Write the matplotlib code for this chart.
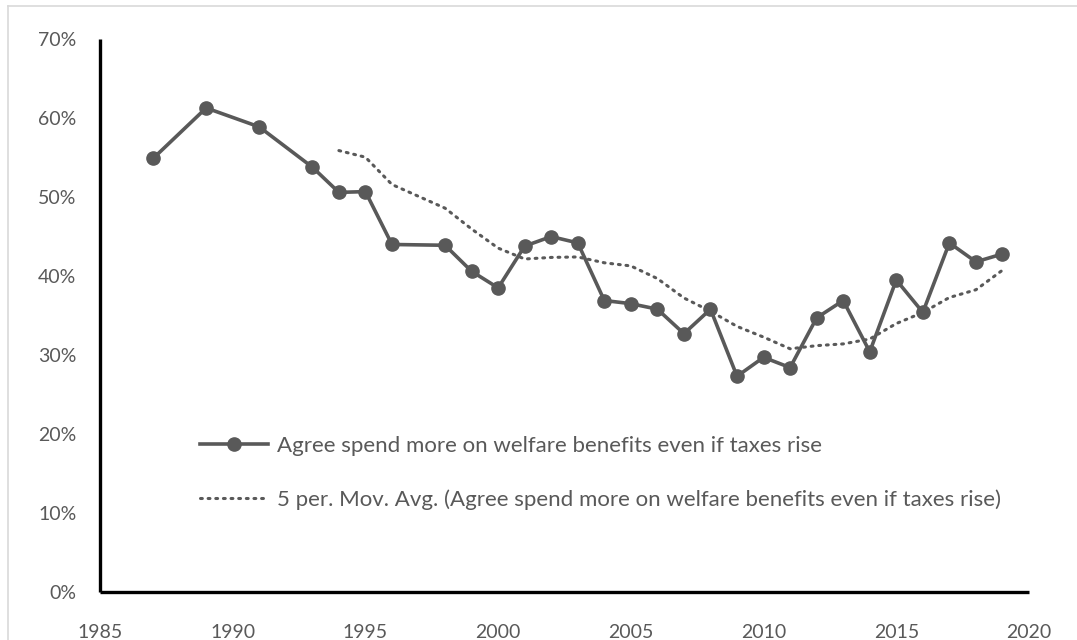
import matplotlib
matplotlib.use("Agg")
import matplotlib.pyplot as plt
import matplotlib.lines as mlines
from matplotlib.ticker import PercentFormatter
import pandas as pd

# survey years and share agreeing (%)
years = [1987, 1989, 1991, 1993, 1994, 1995, 1996, 1998, 1999, 2000,
         2001, 2002, 2003, 2004, 2005, 2006, 2007, 2008, 2009, 2010,
         2011, 2012, 2013, 2014, 2015, 2016, 2017, 2018, 2019]
agree = [54.9, 61.3, 58.9, 53.8, 50.6, 50.7, 44.0, 43.9, 40.6, 38.5,
         43.8, 45.0, 44.2, 36.9, 36.5, 35.8, 32.7, 35.8, 27.3, 29.7,
         28.4, 34.7, 36.9, 30.4, 39.5, 35.4, 44.2, 41.8, 42.8]

x_ticks = [1985, 1990, 1995, 2000, 2005, 2010, 2015, 2020]
y_ticks = [0, 10, 20, 30, 40, 50, 60, 70]

series_label = "Agree spend more on welfare benefits even if taxes rise"
trend_label = "5 per. Mov. Avg. (Agree spend more on welfare benefits even if taxes rise)"

# 5 period moving average trendline, as Excel draws it
mov_avg = pd.Series(agree).rolling(5).mean()

plt.rcParams["font.family"] = ["Lato", "DejaVu Sans"]
grey = "#595959"

fig = plt.figure(figsize=(10.77, 6.40), dpi=100)
ax = fig.add_axes([100 / 1077, 1 - 591.7 / 640, 929 / 1077, 552.4 / 640])

ax.plot(years, agree, color=grey, lw=2.6, marker="o", markersize=9.5,
        label=series_label)
ax.plot(years, mov_avg, color=grey, lw=2.2, linestyle=(0, (0.6, 1.9)),
        dash_capstyle="round", label=trend_label)

ax.set_xlim(1985, 2020)
ax.set_ylim(0, 70)
ax.set_xticks(x_ticks)
ax.set_yticks(y_ticks)
ax.yaxis.set_major_formatter(PercentFormatter(decimals=0))
ax.tick_params(length=0, labelsize=14, labelcolor=grey)
ax.tick_params(axis="y", pad=17)
ax.tick_params(axis="x", pad=23)

for side in ["top", "right"]:
    ax.spines[side].set_visible(False)
for side in ["left", "bottom"]:
    ax.spines[side].set_linewidth(2.4)
    ax.spines[side].set_color("black")
    ax.spines[side].set_capstyle("butt")

leg = ax.legend(loc="upper left", bbox_to_anchor=(200 / 1077, 1 - 436 / 640),
                bbox_transform=fig.transFigure, frameon=False, fontsize=16,
                handlelength=3.05, handletextpad=0.4, labelspacing=1.5,
                numpoints=1, borderpad=0, borderaxespad=0)
for t in leg.get_texts():
    t.set_color(grey)

# light chart frame (only top and left edges fall inside the picture)
fig.add_artist(mlines.Line2D([8 / 1077, 1], [1 - 6 / 640, 1 - 6 / 640],
                             transform=fig.transFigure, color="#D9D9D9", lw=1.2))
fig.add_artist(mlines.Line2D([8 / 1077, 8 / 1077], [0, 1 - 6 / 640],
                             transform=fig.transFigure, color="#D9D9D9", lw=1.2))

fig.savefig("out.png", dpi=100, facecolor="white")
